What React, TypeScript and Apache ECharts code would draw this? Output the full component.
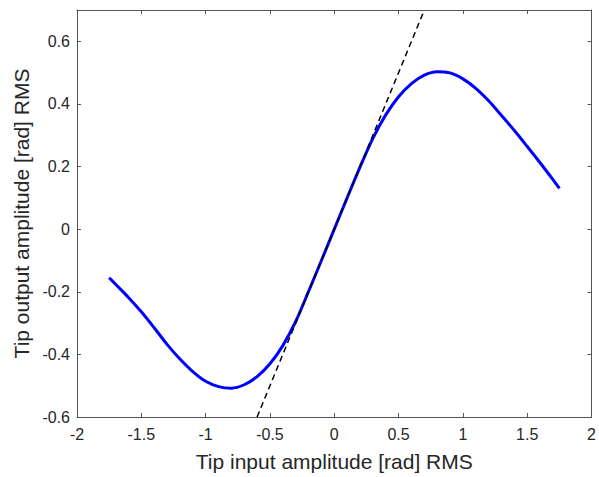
import React, { useEffect, useRef } from "react";
import * as echarts from "echarts";

const curveX = [
  -1.75, -1.7, -1.6, -1.5, -1.4, -1.3, -1.2, -1.1, -1.0, -0.9, -0.8, -0.7, -0.6, -0.5, -0.4, -0.3, -0.2, -0.1, 0,
  0.1, 0.2, 0.3, 0.4, 0.5, 0.6, 0.7, 0.8, 0.9, 1.0, 1.1, 1.2, 1.3, 1.4, 1.5, 1.6, 1.7, 1.75,
];
const curveY = [
  -0.155, -0.176, -0.218, -0.264, -0.315, -0.368, -0.415, -0.455, -0.486, -0.503, -0.508, -0.497, -0.471, -0.43,
  -0.372, -0.295, -0.199, -0.1, 0,
  0.1, 0.198, 0.29, 0.365, 0.423, 0.465, 0.492, 0.503, 0.499, 0.48, 0.45, 0.41, 0.363, 0.315, 0.264, 0.212, 0.158, 0.13,
];
const tangentX = [-0.6, 0.7];
const tangentY = [-0.6, 0.7];

const xLabel = "Tip input amplitude [rad] RMS";
const yLabel = "Tip output amplitude [rad] RMS";

const FONT = "Arial, 'Liberation Sans', Helvetica, sans-serif";
const TEXT = "#262626";
const AXIS = "#555555";

export default function App() {
  const ref = useRef<HTMLDivElement>(null);
  useEffect(() => {
    if (!ref.current) return;
    const chart = echarts.init(ref.current, null, { renderer: "svg" });
    const axisLine = { show: true, onZero: false, lineStyle: { color: AXIS, width: 1 } };
    const tick = { show: true, inside: true, length: 4, lineStyle: { color: AXIS } };
    chart.setOption({
      animation: false,
      textStyle: { fontFamily: FONT },
      grid: { left: 77, right: 1, top: 10, bottom: 58, containLabel: false },
      xAxis: [
        {
          type: "value",
          min: -2,
          max: 2,
          interval: 0.5,
          position: "bottom",
          axisLine,
          axisTick: tick,
          splitLine: { show: false },
          axisLabel: { color: TEXT, fontSize: 16, margin: 9, fontFamily: FONT },
          name: xLabel,
          nameLocation: "middle",
          nameGap: 34,
          nameTextStyle: { color: TEXT, fontSize: 21, fontFamily: FONT },
        },
        {
          type: "value",
          min: -2,
          max: 2,
          interval: 0.5,
          position: "top",
          axisLine,
          axisTick: tick,
          splitLine: { show: false },
          axisLabel: { show: false },
        },
      ],
      yAxis: [
        {
          type: "value",
          min: -0.6,
          max: 0.7,
          interval: 0.2,
          position: "left",
          axisLine,
          axisTick: tick,
          splitLine: { show: false },
          axisLabel: { color: TEXT, fontSize: 16, margin: 7, showMaxLabel: false, fontFamily: FONT },
          name: yLabel,
          nameLocation: "middle",
          nameGap: 41,
          nameTextStyle: { color: TEXT, fontSize: 21, fontFamily: FONT },
        },
        {
          type: "value",
          min: -0.6,
          max: 0.7,
          interval: 0.2,
          position: "right",
          axisLine,
          axisTick: tick,
          splitLine: { show: false },
          axisLabel: { show: false },
        },
      ],
      series: [
        {
          type: "line",
          xAxisIndex: 0,
          yAxisIndex: 0,
          data: tangentX.map((x, i) => [x, tangentY[i]]),
          showSymbol: false,
          symbol: "none",
          clip: true,
          lineStyle: { color: "#000000", width: 1.5, type: [6, 4] },
          z: 3,
        },
        {
          type: "line",
          xAxisIndex: 0,
          yAxisIndex: 0,
          data: curveX.map((x, i) => [x, curveY[i]]),
          showSymbol: false,
          symbol: "none",
          smooth: 0.3,
          clip: true,
          lineStyle: { color: "#0000ff", width: 3 },
          z: 2,
        },
      ],
    });
    return () => chart.dispose();
  }, []);
  return (
    <div
      ref={ref}
      style={{ position: "fixed", left: 0, top: 0, width: 599, height: 477, background: "#ffffff" }}
    />
  );
}
